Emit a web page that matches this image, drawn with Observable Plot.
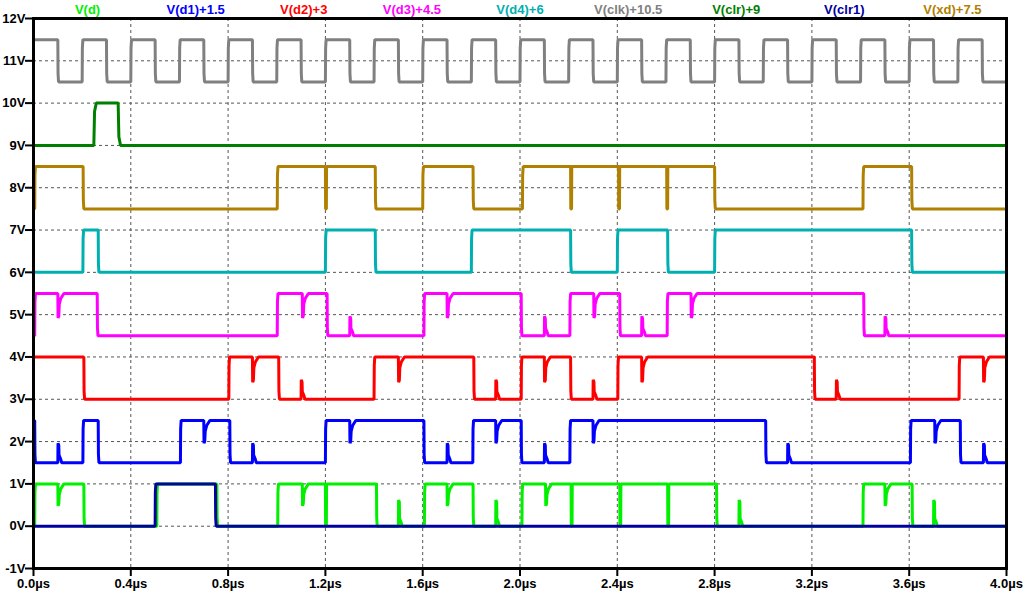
<!DOCTYPE html>
<html>
<head>
<meta charset="utf-8">
<script src="https://cdn.jsdelivr.net/npm/d3@7"></script>
<script src="https://cdn.jsdelivr.net/npm/@observablehq/plot@0.6"></script>
<style>
  html, body { margin: 0; padding: 0; background: #fff; }
  svg { display: block; }
</style>
</head>
<body>
<div id="chart"></div>
<script>
// ---- Axis ticks ----
const xTicks = [0, 0.4, 0.8, 1.2, 1.6, 2.0, 2.4, 2.8, 3.2, 3.6, 4.0];
const yTicks = [-1, 0, 1, 2, 3, 4, 5, 6, 7, 8, 9, 10, 11, 12];

// ---- Trace names, colours, offsets (legend order) ----
const names   = ["V(d)", "V(d1)+1.5", "V(d2)+3", "V(d3)+4.5", "V(d4)+6", "V(clk)+10.5", "V(clr)+9", "V(clr1)", "V(xd)+7.5"];
const colors  = ["#00f000", "#0000ff", "#ff0000", "#ff00ff", "#00b0b0", "#808080", "#008000", "#0000a0", "#b08000"];
const offsets = [0, 1.5, 3, 4.5, 6, 10.5, 9, 0, 7.5];
const startLevels = [0, 1, 1, 0, 0, 1, 0, 0, 0];

// ---- Logic edges (µs), each toggles the level ----
const edgesD    = [0.005, 0.207, 0.507, 0.754, 1.004, 1.41, 1.607, 1.807, 2.008, 2.808, 3.41, 3.612];
const edgesD1   = [0.005, 0.203, 0.266, 0.604, 0.807, 1.2, 1.605, 1.806, 2.005, 2.205, 3.01, 3.605, 3.81];
const edgesD2   = [0.207, 0.803, 1.008, 1.40, 1.81, 2.005, 2.208, 2.402, 3.21, 3.805];
const edgesD3   = [0.005, 0.262, 1.002, 1.207, 1.605, 2.005, 2.205, 2.41, 2.605, 3.413];
const edgesD4   = [0.203, 0.266, 1.2, 1.405, 1.80, 2.208, 2.40, 2.607, 2.80, 3.61];
const edgesClk  = [0.1, 0.2, 0.3, 0.4, 0.5, 0.6, 0.7, 0.8, 0.9, 1.0, 1.1, 1.2, 1.3, 1.4, 1.5, 1.6, 1.7, 1.8, 1.9, 2.0,
                   2.1, 2.2, 2.3, 2.4, 2.5, 2.6, 2.7, 2.8, 2.9, 3.0, 3.1, 3.2, 3.3, 3.4, 3.5, 3.6, 3.7, 3.8, 3.9];
const edgesClr  = [0.248, 0.348];
const edgesClr1 = [0.5, 0.748];
const edgesXd   = [0.005, 0.204, 1.002, 1.405, 1.60, 1.807, 2.01, 2.80, 3.41, 3.61];

// ---- Glitch dips while high (time µs, lowest level) ----
const dipsD  = [[0.1, 0.48], [1.105, 0.48], [1.70, 0.48], [2.105, 0.48], [3.50, 0.48]];
const dipsD1 = [[0.70, 0.46], [1.30, 0.46], [1.90, 0.46], [2.30, 0.46], [3.705, 0.46]];
const dipsD2 = [[0.90, 0.40], [1.50, 0.40], [2.10, 0.40], [2.50, 0.40], [3.905, 0.40]];
const dipsD3 = [[0.1, 0.42], [1.105, 0.42], [1.70, 0.42], [2.303, 0.42], [2.703, 0.42]];

// ---- Glitch spikes while low (time µs, peak level) ----
const spikesD  = [[1.50, 0.62], [1.90, 0.62], [2.90, 0.62], [3.70, 0.62]];
const spikesD1 = [[0.1, 0.46], [0.90, 0.46], [1.70, 0.46], [2.10, 0.46], [3.10, 0.46], [3.905, 0.46]];
const spikesD2 = [[1.10, 0.46], [1.90, 0.46], [2.30, 0.46], [3.30, 0.46]];
const spikesD3 = [[1.30, 0.46], [2.10, 0.46], [2.50, 0.46], [3.50, 0.46]];

// ---- Full drop-outs while high (µs) ----
const dropsD  = [1.2, 2.21, 2.41, 2.607];
const dropsXd = [1.2, 2.208, 2.405, 2.603];

const edgeSets   = [edgesD, edgesD1, edgesD2, edgesD3, edgesD4, edgesClk, edgesClr, edgesClr1, edgesXd];
const dipSets    = [dipsD, dipsD1, dipsD2, dipsD3, [], [], [], [], []];
const spikeSets  = [spikesD, spikesD1, spikesD2, spikesD3, [], [], [], [], []];
const dropSets   = [dropsD, [], [], [], [], [], [], [], dropsXd];
const edgeTimes  = [0.003, 0.003, 0.003, 0.003, 0.003, 0.003, 0.01, 0.003, 0.003];

// ---- Build each waveform from the read events ----
function buildTrace(i) {
  const ev = [];
  edgeSets[i].forEach(t => ev.push({t, k: "e"}));
  dipSets[i].forEach(([t, v]) => ev.push({t, v, k: "d"}));
  spikeSets[i].forEach(([t, v]) => ev.push({t, v, k: "s"}));
  dropSets[i].forEach(t => ev.push({t, k: "g"}));
  ev.sort((a, b) => a.t - b.t);
  let lvl = startLevels[i];
  const et = edgeTimes[i];
  const pts = [[0, lvl]];
  for (const e of ev) {
    const t = e.t;
    if (e.k === "e") {
      const b = 1 - lvl;
      pts.push([t, lvl], [t + et * 0.3, lvl + 0.8 * (b - lvl)], [t + et, b]);
      lvl = b;
    } else if (e.k === "d") {
      pts.push([t, 1], [t + 0.001, e.v], [t + 0.004, e.v + 0.05], [t + 0.006, 0.75], [t + 0.012, 0.88], [t + 0.025, 1]);
    } else if (e.k === "s") {
      pts.push([t, 0], [t + 0.0008, e.v], [t + 0.004, e.v - 0.05], [t + 0.005, 0.18], [t + 0.012, 0.08], [t + 0.016, 0]);
    } else if (e.k === "g") {
      pts.push([t, 1], [t + 0.0008, 0], [t + 0.004, 0], [t + 0.0048, 1]);
    }
  }
  pts.push([4, lvl]);
  return pts.map(([t, v]) => ({t, v: v + offsets[i], name: names[i]}));
}

const traces = names.map((n, i) => buildTrace(i));
const legend = names.map((n, i) => ({name: n, color: colors[i], pos: (i + 0.5) * 4 / names.length}));

const chart = Plot.plot({
  width: 1024,
  height: 595,
  marginLeft: 33,
  marginRight: 18,
  marginTop: 18,
  marginBottom: 27,
  style: {fontFamily: "'Liberation Sans', Arial, sans-serif", fontSize: "13px", fontWeight: "bold", color: "black", background: "white"},
  x: {domain: [0, 4]},
  y: {domain: [-1, 12]},
  marks: [
    Plot.gridX(xTicks, {stroke: "#555", strokeOpacity: 1, strokeWidth: 1, strokeDasharray: "3,3"}),
    Plot.gridY(yTicks, {stroke: "#555", strokeOpacity: 1, strokeWidth: 1, strokeDasharray: "3,3"}),
    ...traces.map((tr, i) => Plot.line(tr, {x: "t", y: "v", stroke: colors[i], strokeWidth: 3, curve: "linear", strokeLinejoin: "miter", strokeLinecap: "butt"})),
    Plot.frame({stroke: "black", strokeWidth: 3}),
    Plot.axisY(yTicks, {tickFormat: d => d + "V", tickSize: 8, tickPadding: 0, stroke: "black", strokeWidth: 2, label: null}),
    Plot.axisX(xTicks, {tickFormat: d => d.toFixed(1) + "µs", tickSize: 8, tickPadding: 2, stroke: "black", strokeWidth: 2, label: null}),
    Plot.text(legend, {x: "pos", y: () => 12, dy: -9, text: "name", fill: "color", fontFamily: "'Liberation Sans', Arial, sans-serif", fontSize: 13, fontWeight: "bold"})
  ]
});
document.getElementById("chart").appendChild(chart);
</script>
</body>
</html>
